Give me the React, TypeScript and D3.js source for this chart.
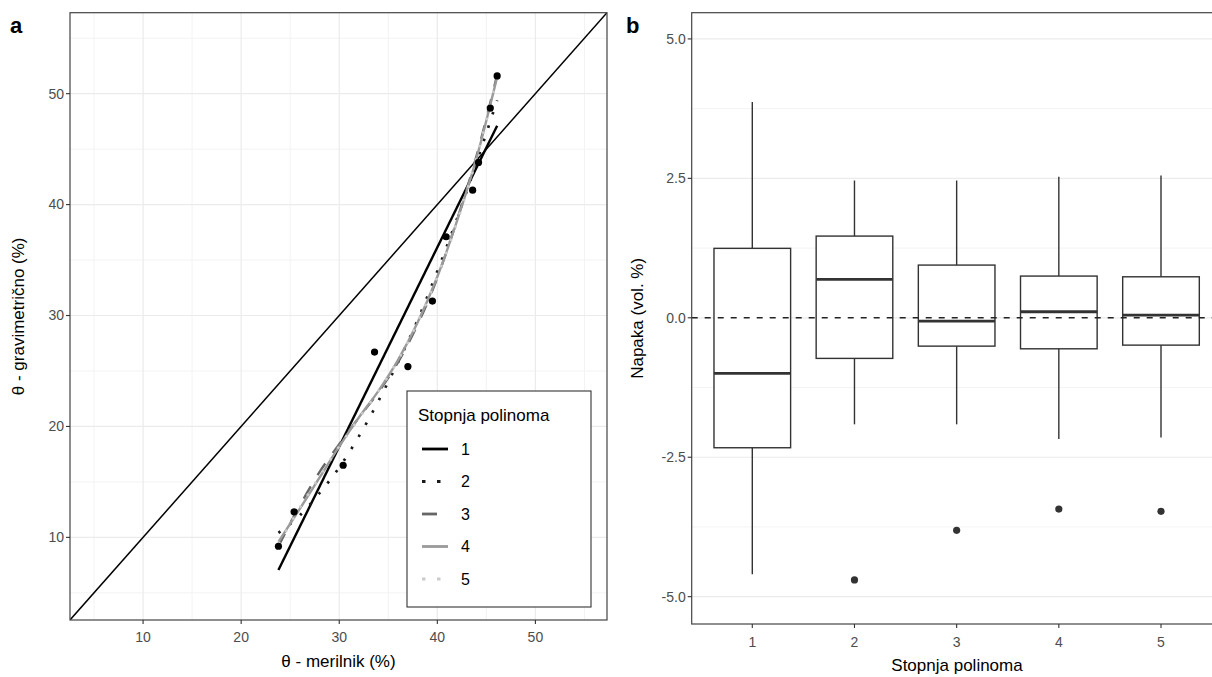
import React from "react";
import * as d3 from "d3";

// ---- panel a data ----
const measX = [23.8, 25.4, 30.4, 33.6, 37.0, 39.5, 40.9, 43.6, 44.2, 45.4, 46.1];
const gravY = [9.2, 12.3, 16.5, 26.7, 25.4, 31.3, 37.1, 41.3, 43.8, 48.7, 51.6];

const fitX = [23.8, 26, 28, 30, 32, 34, 36, 38, 40, 42, 44, 46.1];
const fitLinX = [23.8, 46.1];
const fit1 = [7.05, 47.1];
const fit2 = [10.4, 12.0, 14.0, 16.3, 19.1, 22.3, 25.8, 29.6, 34.0, 38.7, 43.8, 49.4];
const fit3 = [9.2, 12.9, 15.9, 18.4, 20.8, 23.1, 25.8, 29.2, 33.4, 38.6, 44.4, 51.7];
const fit4 = [9.6, 12.6, 15.4, 18.2, 20.8, 23.2, 26.0, 29.4, 33.5, 38.5, 44.2, 51.5];
const fit5 = [9.4, 12.7, 15.5, 18.2, 20.7, 23.2, 26.0, 29.4, 33.5, 38.4, 44.2, 51.6];

const ticksA = [10, 20, 30, 40, 50];
const minorA = [5, 15, 25, 35, 45, 55];
const degrees = ["1", "2", "3", "4", "5"];

// ---- panel b data ----
const whiskerHi = [3.87, 2.46, 2.46, 2.53, 2.55];
const q3 = [1.245, 1.465, 0.945, 0.748, 0.735];
const median = [-0.997, 0.689, -0.059, 0.108, 0.048];
const q1 = [-2.33, -0.728, -0.508, -0.556, -0.49];
const whiskerLo = [-4.6, -1.91, -1.91, -2.175, -2.145];
const outliers = [null, -4.7, -3.81, -3.43, -3.47];

const ticksB = [-5, -2.5, 0, 2.5, 5];
const minorB = [-3.75, -1.25, 1.25, 3.75];

const FONT = "'Liberation Sans', Arial, Helvetica, sans-serif";
const lineStyles = [
  { color: "#000000", dash: "none", w: 2.4 },
  { color: "#1a1a1a", dash: "2.5 11.5", w: 2.7 },
  { color: "#666666", dash: "14 13", w: 2.4 },
  { color: "#9a9a9a", dash: "none", w: 2.4 },
  { color: "#cccccc", dash: "2.5 11.5", w: 2.7 },
];

const App = () => {
  // panel a geometry
  const a = { left: 70, right: 607, top: 12.7, bottom: 620 };
  const xA = d3.scaleLinear().domain([2.55, 57.3]).range([a.left, a.right]);
  const yA = d3.scaleLinear().domain([2.55, 57.3]).range([a.bottom, a.top]);

  // panel b geometry
  const b = { left: 691.7, right: 1222, top: 12.7, bottom: 624 };
  const xB = d3.scalePoint().domain(degrees).range([752.3, 1161]);
  const yB = d3.scaleLinear().domain([-5.49, 5.47]).range([b.bottom, b.top]);
  const boxW = xB.step() * 0.75;

  const line = d3
    .line<[number, number]>()
    .x((d) => xA(d[0]))
    .y((d) => yA(d[1]))
    .curve(d3.curveMonotoneX);

  const fits = [fit1, fit2, fit3, fit4, fit5];
  const fitPaths = fits.map((f, i) => {
    const xs = i === 0 ? fitLinX : fitX;
    return line(xs.map((x, j) => [x, f[j]] as [number, number]));
  });

  const tickCol = "#4d4d4d";
  const gridMajor = "#ebebeb";
  const gridMinor = "#f3f3f3";
  const border = "#444444";

  return (
    <svg
      width={1212}
      height={677}
      style={{ position: "absolute", left: 0, top: 0, background: "#fff" }}
      fontFamily={FONT}
    >
      <defs>
        <clipPath id="clipA">
          <rect x={a.left} y={a.top} width={a.right - a.left} height={a.bottom - a.top} />
        </clipPath>
        <clipPath id="clipB">
          <rect x={b.left} y={b.top} width={b.right - b.left} height={b.bottom - b.top} />
        </clipPath>
      </defs>

      {/* ===== Panel a ===== */}
      <text x={10} y={33} fontSize={22} fontWeight="bold" fill="#000">a</text>
      <g>
        {minorA.map((v) => (
          <g key={"ma" + v}>
            <line x1={xA(v)} x2={xA(v)} y1={a.top} y2={a.bottom} stroke={gridMinor} strokeWidth={1} />
            <line x1={a.left} x2={a.right} y1={yA(v)} y2={yA(v)} stroke={gridMinor} strokeWidth={1} />
          </g>
        ))}
        {ticksA.map((v) => (
          <g key={"ga" + v}>
            <line x1={xA(v)} x2={xA(v)} y1={a.top} y2={a.bottom} stroke={gridMajor} strokeWidth={1.2} />
            <line x1={a.left} x2={a.right} y1={yA(v)} y2={yA(v)} stroke={gridMajor} strokeWidth={1.2} />
          </g>
        ))}
      </g>
      <g clipPath="url(#clipA)">
        <line x1={xA(0)} y1={yA(0)} x2={xA(60)} y2={yA(60)} stroke="#000" strokeWidth={1.5} />
        {fitPaths.map((p, i) => (
          <path
            key={"fit" + i}
            d={p || ""}
            fill="none"
            stroke={lineStyles[i].color}
            strokeWidth={lineStyles[i].w}
            strokeDasharray={lineStyles[i].dash}
          />
        ))}
        {measX.map((x, i) => (
          <circle key={"pt" + i} cx={xA(x)} cy={yA(gravY[i])} r={3.6} fill="#000" />
        ))}
      </g>
      <rect
        x={a.left}
        y={a.top}
        width={a.right - a.left}
        height={a.bottom - a.top}
        fill="none"
        stroke={border}
        strokeWidth={1.2}
      />
      {ticksA.map((v) => (
        <g key={"ta" + v}>
          <line x1={xA(v)} x2={xA(v)} y1={a.bottom} y2={a.bottom + 4} stroke="#333" strokeWidth={1.1} />
          <text x={xA(v)} y={a.bottom + 22} textAnchor="middle" fontSize={14} fill={tickCol}>
            {v}
          </text>
          <line x1={a.left - 4} x2={a.left} y1={yA(v)} y2={yA(v)} stroke="#333" strokeWidth={1.1} />
          <text x={a.left - 6} y={yA(v)} dy="0.35em" textAnchor="end" fontSize={14} fill={tickCol}>
            {v}
          </text>
        </g>
      ))}
      <text x={(a.left + a.right) / 2} y={667} textAnchor="middle" fontSize={17} fill="#000">
        θ - merilnik (%)
      </text>
      <text
        transform={`translate(24, ${(a.top + a.bottom) / 2}) rotate(-90)`}
        textAnchor="middle"
        fontSize={17}
        fill="#000"
      >
        θ - gravimetrično (%)
      </text>

      {/* legend */}
      <g>
        <rect x={407} y={391} width={184} height={216} fill="#fff" stroke="#333" strokeWidth={1.1} />
        <text x={418} y={421} fontSize={17} fill="#000">Stopnja polinoma</text>
        {degrees.map((d, i) => {
          const cy = 449 + i * 32.5;
          const s = lineStyles[i];
          return (
            <g key={"lg" + d}>
              <line
                x1={422}
                x2={448}
                y1={cy}
                y2={cy}
                stroke={s.color}
                strokeWidth={s.w + 0.4}
                strokeDasharray={i === 2 ? "15 20" : s.dash === "none" ? "none" : "3.5 11.5"}
              />
              <text x={461} y={cy} dy="0.36em" fontSize={16} fill="#000">{d}</text>
            </g>
          );
        })}
      </g>

      {/* ===== Panel b ===== */}
      <text x={626} y={33} fontSize={22} fontWeight="bold" fill="#000">b</text>
      <g clipPath="url(#clipB)">
        {minorB.map((v) => (
          <line key={"mb" + v} x1={b.left} x2={b.right} y1={yB(v)} y2={yB(v)} stroke={gridMinor} strokeWidth={1} />
        ))}
        {ticksB.map((v) => (
          <line key={"gb" + v} x1={b.left} x2={b.right} y1={yB(v)} y2={yB(v)} stroke={gridMajor} strokeWidth={1.2} />
        ))}
        {degrees.map((d, i) => {
          const cx = xB(d) as number;
          return (
            <g key={"box" + d} stroke="#333" fill="none">
              <line x1={cx} x2={cx} y1={yB(whiskerHi[i])} y2={yB(q3[i])} strokeWidth={1.4} />
              <line x1={cx} x2={cx} y1={yB(q1[i])} y2={yB(whiskerLo[i])} strokeWidth={1.4} />
              <rect
                x={cx - boxW / 2}
                y={yB(q3[i])}
                width={boxW}
                height={yB(q1[i]) - yB(q3[i])}
                fill="#fff"
                strokeWidth={1.4}
              />
              <line x1={cx - boxW / 2} x2={cx + boxW / 2} y1={yB(median[i])} y2={yB(median[i])} strokeWidth={2.8} />
              {outliers[i] !== null && (
                <circle cx={cx} cy={yB(outliers[i] as number)} r={3.6} fill="#333" stroke="none" />
              )}
            </g>
          );
        })}
        <line x1={b.left} x2={b.right} y1={yB(0)} y2={yB(0)} stroke="#222" strokeWidth={1.4} strokeDasharray="6 7" />
      </g>
      <rect
        x={b.left}
        y={b.top}
        width={b.right - b.left}
        height={b.bottom - b.top}
        fill="none"
        stroke={border}
        strokeWidth={1.2}
      />
      {ticksB.map((v) => (
        <g key={"tb" + v}>
          <line x1={b.left - 4} x2={b.left} y1={yB(v)} y2={yB(v)} stroke="#333" strokeWidth={1.1} />
          <text x={b.left - 6} y={yB(v)} dy="0.35em" textAnchor="end" fontSize={14} fill={tickCol}>
            {d3.format(".1f")(v).replace("−", "-")}
          </text>
        </g>
      ))}
      {degrees.map((d) => (
        <g key={"xb" + d}>
          <line x1={xB(d) as number} x2={xB(d) as number} y1={b.bottom} y2={b.bottom + 4} stroke="#333" strokeWidth={1.1} />
          <text x={xB(d) as number} y={b.bottom + 23} textAnchor="middle" fontSize={14} fill={tickCol}>
            {d}
          </text>
        </g>
      ))}
      <text x={957} y={671} textAnchor="middle" fontSize={17} fill="#000">Stopnja polinoma</text>
      <text
        transform={`translate(643, ${(b.top + b.bottom) / 2}) rotate(-90)`}
        textAnchor="middle"
        fontSize={17}
        fill="#000"
      >
        Napaka (vol. %)
      </text>
    </svg>
  );
};

export default App;
